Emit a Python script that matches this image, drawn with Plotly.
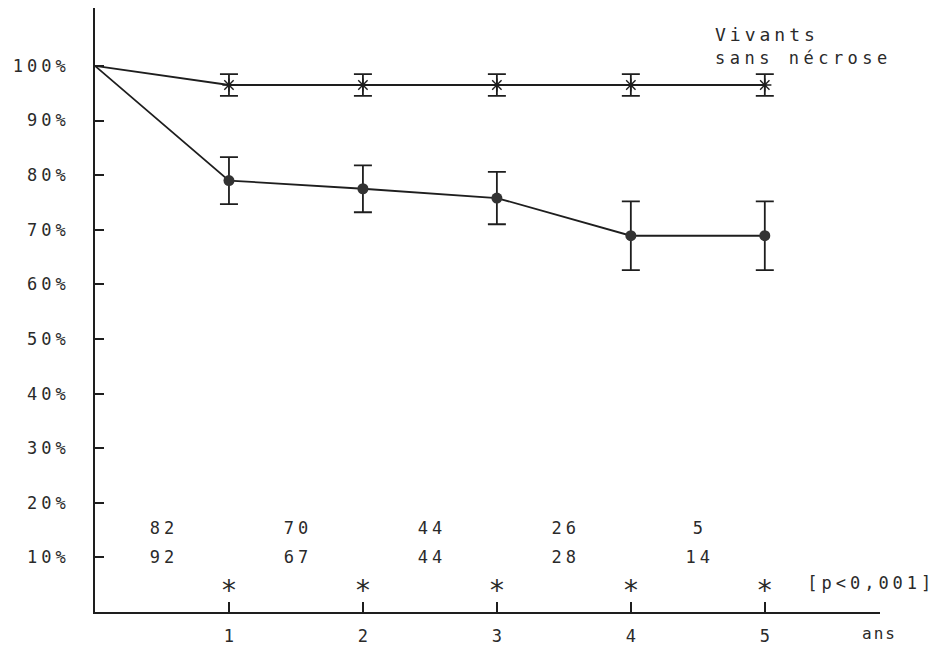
import plotly.graph_objects as go

# Follow-up in years
years = [0, 1, 2, 3, 4, 5]

# Survival without necrosis (%) and its standard error
vivants = [100, 96.5, 96.5, 96.5, 96.5, 96.5]
vivants_err = [2.0, 2.0, 2.0, 2.0, 2.0]

# Second group (%) and its standard error
groupe2 = [100, 79.0, 77.5, 75.8, 68.9, 68.9]
groupe2_err = [4.3, 4.3, 4.8, 6.3, 6.3]

# Patients at risk per interval
interval_mid = [0.5, 1.5, 2.5, 3.5, 4.5]
at_risk_1 = ["82", "70", "44", "26", "5"]
at_risk_2 = ["92", "67", "44", "28", "14"]

# Significance marks per year
sig_years = [1, 2, 3, 4, 5]
sig_marks = ["*", "*", "*", "*", "*"]
p_text = "[p<0,001]"

y_ticks = [10, 20, 30, 40, 50, 60, 70, 80, 90, 100]
y_ticktext = [f"{v}%" for v in y_ticks]
x_ticks = [1, 2, 3, 4, 5]

FONT = "DejaVu Sans Mono"
INK = "#2a2a2a"
LINE = "#1e1e1e"


def text_trace(x, y, text, size=17):
    return go.Scatter(x=x, y=y, mode="text", text=text, cliponaxis=False,
                      textfont=dict(family=FONT, size=size, color=INK),
                      hoverinfo="skip")


fig = go.Figure()

# Curves, starting at 100% at year 0
fig.add_trace(go.Scatter(x=years, y=vivants, mode="lines",
                         line=dict(color=LINE, width=1.8), hoverinfo="skip"))
fig.add_trace(go.Scatter(x=years, y=groupe2, mode="lines",
                         line=dict(color=LINE, width=1.8), hoverinfo="skip"))

# Yearly estimates with error bars
fig.add_trace(go.Scatter(
    x=years[1:], y=vivants[1:], mode="markers",
    marker=dict(symbol="asterisk-open", size=11, color=LINE,
                line=dict(color=LINE, width=1.4)),
    error_y=dict(type="data", array=vivants_err, color=LINE,
                 thickness=1.8, width=9),
))
fig.add_trace(go.Scatter(
    x=years[1:], y=groupe2[1:], mode="markers",
    marker=dict(symbol="circle", size=11, color="#333333"),
    error_y=dict(type="data", array=groupe2_err, color=LINE,
                 thickness=1.8, width=9),
))

# Numbers at risk and significance marks
fig.add_trace(text_trace(interval_mid, [15.0] * 5, at_risk_1))
fig.add_trace(text_trace(interval_mid, [9.7] * 5, at_risk_2))
fig.add_trace(text_trace(sig_years, [3.5] * 5, sig_marks, size=28))
fig.add_trace(text_trace([5.78], [4.9], [p_text]))

# Axis title below the end of the time axis
fig.add_annotation(x=5.85, y=0, yshift=-21, text="ans", showarrow=False,
                   font=dict(family=FONT, size=16, color=INK))

fig.add_annotation(x=4.61, y=105.7, text="Vivants", showarrow=False,
                   xanchor="left", align="left",
                   font=dict(family=FONT, size=18, color=INK))
fig.add_annotation(x=4.61, y=101.5, text="sans nécrose", showarrow=False,
                   xanchor="left", align="left",
                   font=dict(family=FONT, size=17, color=INK))

fig.update_layout(
    width=941, height=646,
    margin=dict(l=95, r=61, t=8, b=34),
    paper_bgcolor="white", plot_bgcolor="white",
    showlegend=False,
    font=dict(family=FONT, size=17, color=INK),
    xaxis=dict(range=[0, 5.86], tickvals=x_ticks, ticks="inside", ticklen=10,
               tickwidth=1.5, tickcolor=LINE, showline=True, linecolor=LINE,
               linewidth=1.8, showgrid=False, zeroline=False, automargin=False,
               ticklabelstandoff=8,
               tickfont=dict(family=FONT, size=17, color=INK)),
    yaxis=dict(range=[0, 110.6], tickvals=y_ticks, ticktext=y_ticktext,
               ticks="inside", ticklen=9, tickwidth=1.5, tickcolor=LINE,
               showline=True, linecolor=LINE, linewidth=1.8, showgrid=False,
               zeroline=False, automargin=False, ticklabelstandoff=20,
               tickfont=dict(family=FONT, size=17, color=INK)),
)

# Wide, plotter-style letter spacing on every label
spacing_js = """
var gd = document.getElementById('{plot_id}');
function spaceLabels() {
  gd.querySelectorAll('text').forEach(function (t) {
    var s = t.textContent;
    var sp = 4;
    if (s === 'ans') { sp = 2; }
    if (s.indexOf('sans') === 0) { sp = 4.5; }
    t.style.letterSpacing = sp + 'px';
    if (t.getAttribute('text-anchor') === 'middle') { t.setAttribute('dx', sp / 2); }
  });
}
spaceLabels();
gd.on('plotly_afterplot', spaceLabels);
"""

fig.write_html("out.html", post_script=spacing_js)
